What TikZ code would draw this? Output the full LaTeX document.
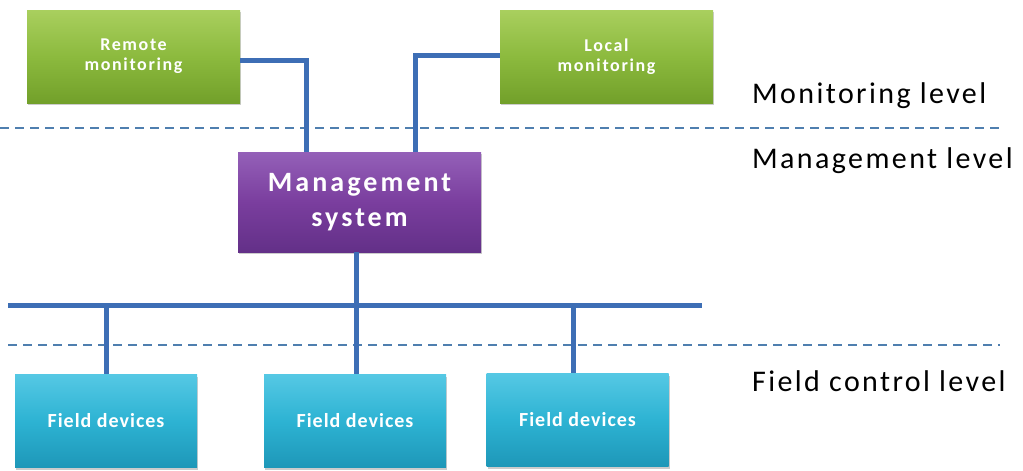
\documentclass[tikz,border=0pt]{standalone}
\usepackage{fontspec}
\setmainfont{Carlito}
\newfontfamily\lvlfont[LetterSpace=8]{Carlito}
\newfontfamily\msfont[LetterSpace=11]{Carlito}
\newfontfamily\gbfont[LetterSpace=9]{Carlito}
\newfontfamily\fdfont[LetterSpace=5]{Carlito}
\usetikzlibrary{shadows}
\definecolor{grn}{HTML}{8CBA3E}
\definecolor{grnL}{HTML}{A9CF5E}
\definecolor{grnD}{HTML}{72A02A}
\definecolor{pur}{HTML}{7A3E9E}
\definecolor{purL}{HTML}{9460B8}
\definecolor{purD}{HTML}{633088}
\definecolor{cyn}{HTML}{2DB3D3}
\definecolor{cynL}{HTML}{55C8E4}
\definecolor{cynD}{HTML}{1E97B8}
\definecolor{bus}{HTML}{3D6EB5}
\definecolor{dsh}{HTML}{4F7FAF}
\tikzset{
  box/.style={rectangle, draw=none, text=white, align=center,
    drop shadow={shadow xshift=1pt, shadow yshift=-2pt, opacity=0.4}},
  greenbox/.style={box, top color=grnL, bottom color=grnD, middle color=grn,
    minimum width=213pt, minimum height=93pt, font=\gbfont\bfseries\fontsize{18}{20}\selectfont},
  purplebox/.style={box, top color=purL, bottom color=purD, middle color=pur,
    minimum width=243pt, minimum height=100pt, font=\msfont\bfseries\fontsize{28}{35}\selectfont},
  cyanbox/.style={box, top color=cynL, bottom color=cynD, middle color=cyn,
    minimum width=182pt, minimum height=93pt, font=\fdfont\bfseries\fontsize{20}{22}\selectfont},
  wire/.style={draw=bus, line width=5pt},
  sep/.style={draw=dsh, line width=1.2pt, dash pattern=on 9pt off 6pt},
  lvl/.style={anchor=west, font=\lvlfont\fontsize{30}{34}\selectfont, inner sep=0pt}
}
\begin{document}
\begin{tikzpicture}[x=1pt,y=-1pt]
\useasboundingbox (0,0) rectangle (1023,471);
% dashed separators
\coordinate (d1a) at (0,128); \coordinate (d1b) at (1000,128);
\coordinate (d2a) at (8,345); \coordinate (d2b) at (1000,345);
\draw[sep] (d1a) -- (d1b);
\draw[sep] (d2a) -- (d2b);
% nodes
\node[greenbox] (rm) at (133.5,56.5) {Remote\\monitoring};
\node[greenbox] (lm) at (606.5,56.5) {Local\\monitoring};
\node[purplebox] (ms) at (359.5,202) {Management\\system};
\node[cyanbox] (f1) at (106,421) {Field devices};
\node[cyanbox] (f2) at (355,421) {Field devices};
\node[cyanbox] (f3) at (577.5,420) {Field devices};
% bus
\coordinate (busL) at (8,305);
\coordinate (busR) at (702,305);
\coordinate (j1) at (106,305);
\coordinate (j2) at (356,305);
\coordinate (j3) at (573,305);
% connectors
\draw[wire] (rm.east |- 0,60) -| (306,152) coordinate (ma);
\draw[wire] (lm.west |- 0,55) -| (415,152) coordinate (mb);
\draw[wire] (ms.south -| j2) -- (j2);
\draw[wire] (busL) -- (busR);
\draw[wire] (j1) -- (j1 |- f1.north);
\draw[wire] (j2) -- (j2 |- f2.north);
\draw[wire] (j3) -- (j3 |- f3.north);
% level labels
\node[lvl] (l1) at (752,96) {Monitoring level};
\node[lvl] (l2) at (752,161) {Management level};
\node[lvl] (l3) at (752,381) {Field control level};
\end{tikzpicture}
\end{document}
